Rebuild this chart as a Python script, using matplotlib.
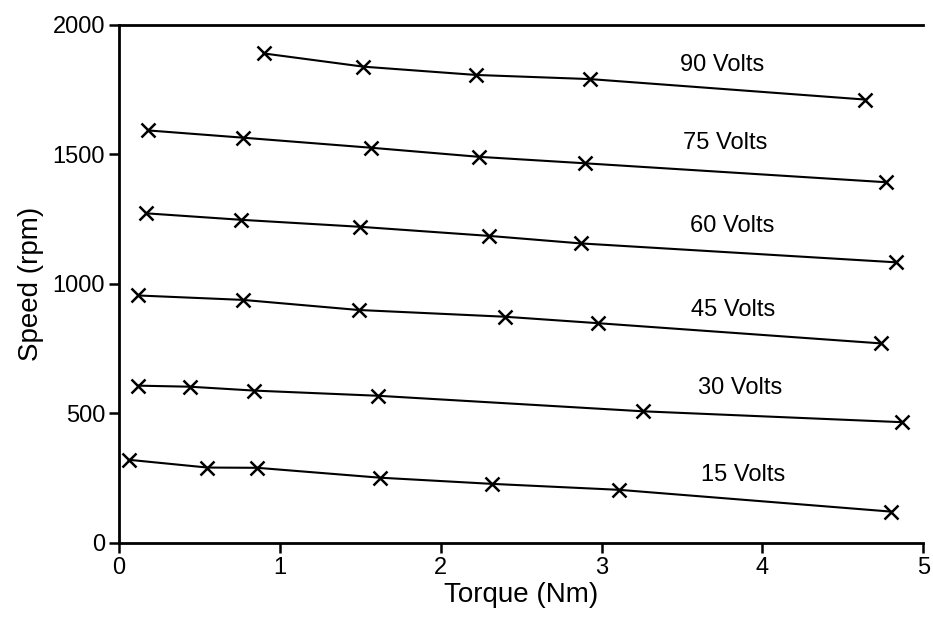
"""
Speed vs torque curves of a DC motor at several supply voltages
"""
import matplotlib.pyplot as plt

plt.rcParams['font.family'] = ['Liberation Sans', 'DejaVu Sans']

voltage_labels = ['90 Volts', '75 Volts', '60 Volts', '45 Volts', '30 Volts', '15 Volts']

torque_90 = [0.90, 1.52, 2.22, 2.93, 4.64]
speed_90 = [1889, 1838, 1806, 1790, 1711]

torque_75 = [0.18, 0.77, 1.57, 2.24, 2.90, 4.77]
speed_75 = [1592, 1564, 1525, 1490, 1465, 1392]

torque_60 = [0.17, 0.76, 1.50, 2.30, 2.87, 4.83]
speed_60 = [1272, 1247, 1220, 1185, 1156, 1083]

torque_45 = [0.12, 0.77, 1.49, 2.40, 2.98, 4.74]
speed_45 = [955, 938, 899, 873, 848, 770]

torque_30 = [0.12, 0.44, 0.84, 1.61, 3.26, 4.87]
speed_30 = [607, 603, 588, 568, 508, 466]

torque_15 = [0.06, 0.55, 0.86, 1.62, 2.32, 3.11, 4.80]
speed_15 = [321, 291, 290, 252, 228, 205, 121]

# where the curve names sit
label_x = [3.75, 3.77, 3.81, 3.82, 3.86, 3.88]
label_y = [1845, 1544, 1224, 900, 599, 263]

x_ticks = [0, 1, 2, 3, 4, 5]
y_ticks = [0, 500, 1000, 1500, 2000]

fig = plt.figure(figsize=(9.33, 6.17), dpi=100)
ax = fig.add_axes([0.1275, 0.12, 0.862, 0.84])

curves = [(torque_90, speed_90), (torque_75, speed_75), (torque_60, speed_60),
          (torque_45, speed_45), (torque_30, speed_30), (torque_15, speed_15)]
for t, s in curves:
    ax.plot(t, s, color='black', lw=1.5, marker='x', ms=10.5, mew=1.8)

for name, lx, ly in zip(voltage_labels, label_x, label_y):
    ax.text(lx, ly, name, fontsize=17, ha='center', va='center')

ax.set_xlim(0, 5)
ax.set_ylim(0, 2000)
ax.set_xticks(x_ticks)
ax.set_yticks(y_ticks)
ax.tick_params(direction='out', length=7, width=1.8, labelsize=17, pad=3)

for side in ['left', 'bottom', 'top']:
    ax.spines[side].set_linewidth(2)
ax.spines['right'].set_visible(False)

ax.set_xlabel('Torque (Nm)', fontsize=20, labelpad=2)
ax.set_ylabel('Speed (rpm)', fontsize=20, labelpad=6)

fig.savefig('out.png', dpi=100)
